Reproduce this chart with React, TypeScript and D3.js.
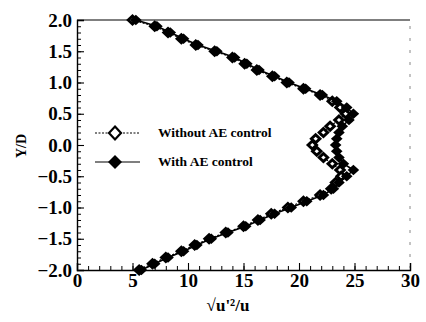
import { useEffect, useRef } from 'react';
import * as d3 from 'd3';

// Y/D stations, top to bottom
const yStations = [
  2.0, 1.9, 1.8, 1.7, 1.6, 1.5, 1.4, 1.3, 1.2, 1.1, 1.0, 0.9, 0.8, 0.7, 0.6, 0.5, 0.4, 0.3, 0.2, 0.1, 0.0,
  -0.1, -0.2, -0.3, -0.4, -0.5, -0.6, -0.7, -0.8, -0.9, -1.0, -1.1, -1.2, -1.3, -1.4, -1.5, -1.6, -1.7, -1.8, -1.9, -2.0,
];

const withoutAE = [
  5.0, 7.0, 8.2, 9.4, 10.7, 12.4, 14.0, 15.1, 16.2, 17.6, 18.9, 20.4, 21.9, 23.0, 23.7, 24.2, 23.6, 22.8, 22.2, 21.5, 21.2,
  21.6, 22.2, 23.0, 23.7, 23.8, 23.3, 22.9, 21.9, 20.4, 19.0, 17.5, 16.3, 15.0, 13.4, 11.9, 10.6, 9.4, 8.0, 6.8, 5.6,
];

const withAE = [
  5.3, 7.2, 8.4, 9.6, 10.9, 12.6, 14.2, 15.3, 16.4, 17.8, 19.1, 20.6, 22.1, 23.4, 24.3, 24.9, 24.5, 23.9, 23.6, 23.4, 23.3,
  23.4, 23.6, 24.0, 24.9, 24.3, 23.6, 23.1, 22.2, 20.7, 19.3, 17.8, 16.5, 15.2, 13.6, 12.1, 10.8, 9.6, 8.2, 7.0, 5.8,
];

const xTicks = [0, 5, 10, 15, 20, 25, 30];
const yTicks = [-2.0, -1.5, -1.0, -0.5, 0.0, 0.5, 1.0, 1.5, 2.0];

const W = 426;
const H = 322;
const FONT = '"Liberation Serif", "Times New Roman", serif';

function diamond(cx: number, cy: number, rx: number, ry: number) {
  return `M${cx},${cy - ry}L${cx + rx},${cy}L${cx},${cy + ry}L${cx - rx},${cy}Z`;
}

export default function App() {
  const svgRef = useRef<SVGSVGElement>(null);

  useEffect(() => {
    if (!svgRef.current) return;
    const svg = d3.select(svgRef.current);
    svg.selectAll('*').remove();

    const left = 77, right = 410, top = 20, bottom = 270;
    const x = d3.scaleLinear().domain([0, 30]).range([left, right]);
    const y = d3.scaleLinear().domain([-2, 2]).range([bottom, top]);

    // frame: top solid, right faint
    svg.append('line').attr('x1', left).attr('x2', right).attr('y1', top).attr('y2', top)
      .attr('stroke', '#000').attr('stroke-width', 1.2);
    svg.append('line').attr('x1', right).attr('x2', right).attr('y1', top + 6).attr('y2', bottom - 2)
      .attr('stroke', '#888').attr('stroke-width', 1).attr('stroke-dasharray', '3,9');

    // minor ticks
    const xMinor = d3.range(0, 31, 1);
    const yMinor = d3.range(-20, 21, 1).map(v => v / 10);

    svg.append('g').attr('transform', `translate(0,${bottom})`)
      .call(d3.axisBottom(x).tickValues(xMinor).tickSize(-4).tickFormat(() => ''))
      .call(g => g.select('.domain').remove());
    svg.append('g').attr('transform', `translate(${left},0)`)
      .call(d3.axisLeft(y).tickValues(yMinor).tickSize(-4).tickFormat(() => ''))
      .call(g => g.select('.domain').remove());

    const gx = svg.append('g').attr('transform', `translate(0,${bottom})`)
      .call(d3.axisBottom(x).tickValues(xTicks).tickSize(-7).tickPadding(3).tickFormat(d3.format('d')));
    const gy = svg.append('g').attr('transform', `translate(${left},0)`)
      .call(d3.axisLeft(y).tickValues(yTicks).tickSize(-7).tickPadding(5).tickFormat(d3.format('.1f')));

    [gx, gy].forEach(g => {
      g.select('.domain').attr('stroke-width', 1.4);
      g.selectAll('.tick line').attr('stroke-width', 1.1);
      g.selectAll('.tick text')
        .attr('font-family', FONT).attr('font-size', 19).attr('font-weight', 'bold').attr('fill', '#000');
    });
    svg.selectAll('.tick line').attr('stroke', '#000');

    const pts = (xs: number[]) => xs.map((v, i) => [x(v), y(yStations[i])] as [number, number]);
    const line = d3.line();

    // without AE: dashed line, open diamonds (heavy outline, small hole)
    const pWithout = pts(withoutAE);
    svg.append('path').attr('d', line(pWithout)).attr('fill', 'none')
      .attr('stroke', '#000').attr('stroke-width', 1.2).attr('stroke-dasharray', '2,1.5');
    svg.append('g').selectAll('path').data(pWithout).join('path')
      .attr('d', d => diamond(d[0], d[1], 4.2, 4))
      .attr('fill', '#fff').attr('stroke', '#000').attr('stroke-width', 3);

    // with AE: solid line, filled diamonds
    const pWith = pts(withAE);
    svg.append('path').attr('d', line(pWith)).attr('fill', 'none')
      .attr('stroke', '#000').attr('stroke-width', 1.6);
    svg.append('g').selectAll('path').data(pWith).join('path')
      .attr('d', d => diamond(d[0], d[1], 5.8, 5.2))
      .attr('fill', '#000');

    // legend
    const lg = svg.append('g');
    lg.append('line').attr('x1', 95).attr('x2', 140).attr('y1', 133).attr('y2', 133)
      .attr('stroke', '#000').attr('stroke-width', 1).attr('stroke-dasharray', '2,1.5');
    lg.append('path').attr('d', diamond(115, 133, 6, 6.5))
      .attr('fill', '#fff').attr('stroke', '#000').attr('stroke-width', 2.2);
    lg.append('text').attr('x', 158).attr('y', 137).text('Without AE control')
      .attr('font-family', FONT).attr('font-size', 13.5).attr('font-weight', 'bold');
    lg.append('line').attr('x1', 95).attr('x2', 140).attr('y1', 162).attr('y2', 162)
      .attr('stroke', '#000').attr('stroke-width', 1.2);
    lg.append('path').attr('d', diamond(115, 162, 7, 7)).attr('fill', '#000');
    lg.append('text').attr('x', 158).attr('y', 166).text('With AE control')
      .attr('font-family', FONT).attr('font-size', 13.5).attr('font-weight', 'bold');

    // axis titles
    svg.append('text').attr('transform', 'translate(26,146) rotate(-90)')
      .attr('text-anchor', 'middle').text('Y/D')
      .attr('font-family', FONT).attr('font-size', 14).attr('font-weight', 'bold');
    svg.append('text').attr('x', 228).attr('y', 311).attr('text-anchor', 'middle')
      .text("√u'²/u")
      .attr('font-family', FONT).attr('font-size', 17).attr('font-weight', 'bold');
  }, []);

  return (
    <svg
      ref={svgRef}
      width={W}
      height={H}
      style={{ position: 'absolute', left: 0, top: 0, background: '#fff' }}
    />
  );
}
